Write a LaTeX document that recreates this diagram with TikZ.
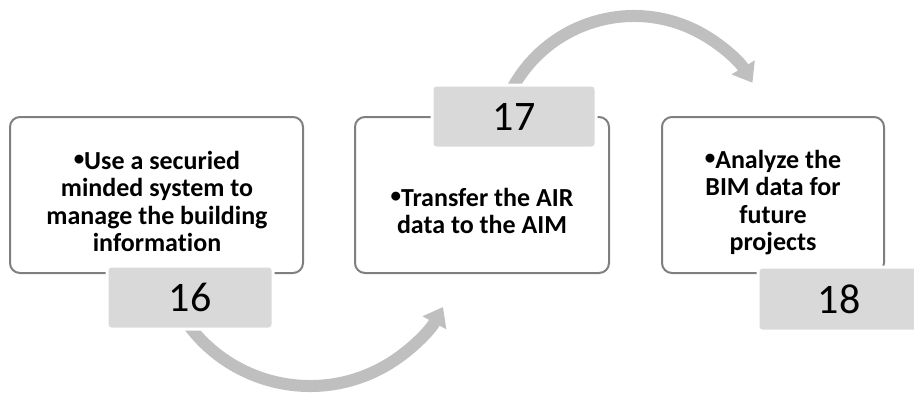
\documentclass[tikz,border=0pt]{standalone}
\usepackage{fontspec}
\setmainfont[Ligatures=NoCommon]{Carlito}
\usetikzlibrary{arrows.meta}
\definecolor{arcgray}{HTML}{BFBFBF}
\definecolor{tabgray}{HTML}{D9D9D9}
\definecolor{linegray}{HTML}{7F7F7F}
\newcommand{\smbul}{\raisebox{3.5pt}{\fontsize{21}{21}\selectfont •}}
\begin{document}
\begin{tikzpicture}[x=1pt,y=-1pt,
  outbox/.style={draw=linegray, line width=2pt, rounded corners=10pt, fill=white},
  tabbox/.style={fill=tabgray, draw=white, line width=3pt, rounded corners=4pt},
  numtext/.style={font=\fontsize{42}{50}\selectfont, inner sep=0pt},
  bodytext/.style={font=\fontsize{26}{27.5}\selectfont\bfseries, align=center, inner sep=0pt},
  bigarrow/.style={draw=arcgray, line width=12pt, -{Triangle[width=26pt,length=18pt]}}
]
\useasboundingbox (0,0) rectangle (914,394);
\clip (0,0) rectangle (914,394);
% arcs
\coordinate (a1s) at ({310+151.5*cos(148)},{234.5+151.5*sin(148)});
\coordinate (a2s) at ({634+138.5*cos(208)},{154.5+138.5*sin(208)});
\draw[bigarrow] (a1s) arc[start angle=148, end angle=28.6, radius=151.5];
\draw[bigarrow] (a2s) arc[start angle=208, end angle=328.8, radius=138.5];
% boxes
\draw[outbox] (10,117) rectangle (303,273);
\draw[outbox] (355,117) rectangle (609,273);
\draw[outbox] (662,117) rectangle (884,273);
\node[bodytext, anchor=north] (t1) at (157,151) {\smbul Use a securied\\minded system to\\manage the building\\information};
\node[bodytext, anchor=north] (t2) at (482,188) {\smbul Transfer the AIR\\data to the AIM};
\node[bodytext, anchor=north] (t3) at (773,150) {\smbul Analyze the\\BIM data for\\future\\projects};
% tabs
\draw[tabbox] (107,266) rectangle (273,329);
\draw[tabbox] (432,85) rectangle (596,148);
\draw[tabbox] (758,267) rectangle (924,331);
\node[numtext] (n16) at (190,297.5) {16};
\node[numtext] (n17) at (514,116.5) {17};
\node[numtext] (n18) at (839,299) {18};
\end{tikzpicture}
\end{document}
